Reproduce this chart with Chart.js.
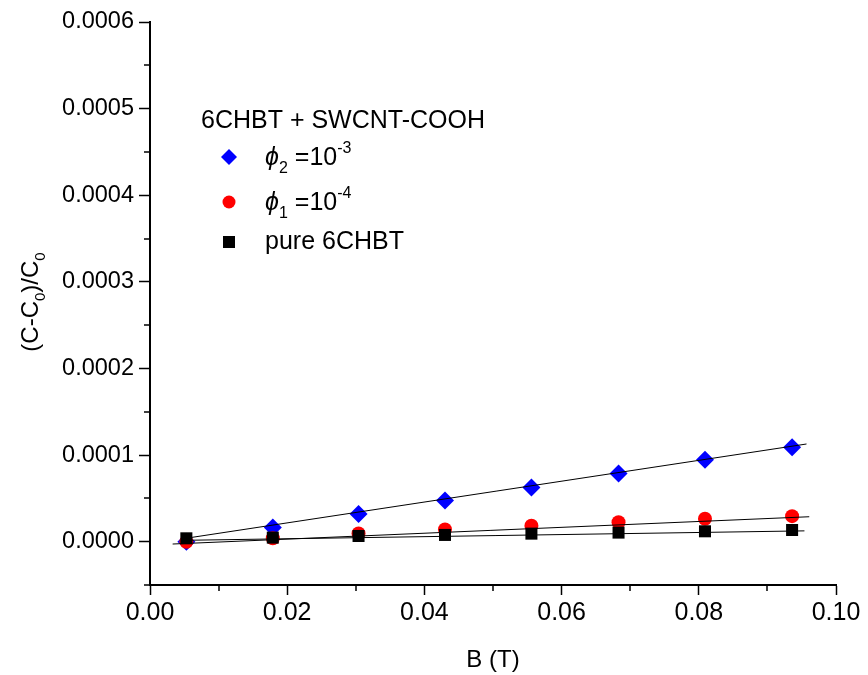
<!DOCTYPE html>
<html>
<head>
<meta charset="utf-8">
<title>(C-C0)/C0 vs B</title>
<script src="https://cdn.jsdelivr.net/npm/chart.js@4.4.1/dist/chart.umd.min.js"></script>
<style>
  html, body { margin: 0; padding: 0; background: #fff; }
  #wrap { width: 868px; height: 675px; }
</style>
</head>
<body>
<div id="wrap"><canvas id="capChart" width="868" height="675"></canvas></div>
<script>
'use strict';

// ── Data ─────────────────────────────────────────────────
const bField = [0.0053, 0.0179, 0.0304, 0.0430, 0.0556, 0.0683, 0.0809, 0.0936];
const phi2   = [0.0, 1.63e-5, 3.19e-5, 4.75e-5, 6.26e-5, 7.86e-5, 9.46e-5, 1.09e-4];
const phi1   = [0.0, 0.40e-5, 0.95e-5, 1.40e-5, 1.85e-5, 2.25e-5, 2.65e-5, 2.95e-5];
const pure   = [0.39e-5, 0.47e-5, 0.66e-5, 0.78e-5, 0.93e-5, 1.05e-5, 1.20e-5, 1.35e-5];

// linear fit end points
const fitPhi2X = [0.0052, 0.0957];
const fitPhi2Y = [0.39e-5, 1.128e-4];
const fitPhi1X = [0.0033, 0.0961];
const fitPhi1Y = [-0.27e-5, 2.88e-5];
const fitPureX = [0.0052, 0.0954];
const fitPureY = [0.16e-5, 1.25e-5];

// ticks
const xTicks = [0.00, 0.02, 0.04, 0.06, 0.08, 0.10];
const xMinor = [0.01, 0.03, 0.05, 0.07, 0.09];
const yTicks = [0.0000, 0.0001, 0.0002, 0.0003, 0.0004, 0.0005, 0.0006];
const yMinor = [-0.00005, 0.00005, 0.00015, 0.00025, 0.00035, 0.00045, 0.00055];

const legendTitle = '6CHBT + SWCNT-COOH';

const FONT = '"Liberation Sans", Arial, sans-serif';

const pts = (xs, ys) => xs.map((x, i) => ({ x: x, y: ys[i] }));

// ── text with sub/superscripts ───────────────────────────
function partFont(p, size) {
    const fs = (p.sub || p.sup) ? Math.round(size * 0.64) : size;
    return (p.italic ? 'italic ' : '') + fs + 'px ' + FONT;
}

function drawRich(ctx, x, y, parts, size) {
    let cx = x;
    parts.forEach(p => {
        ctx.font = partFont(p, size);
        let dy = 0;
        if (p.sub) dy = size * 0.3;
        if (p.sup) dy = -size * 0.48;
        ctx.fillText(p.t, cx, y + dy);
        cx += ctx.measureText(p.t).width + (p.gap || 0);
    });
    return cx;
}

// ── plugin: minor ticks, y title, legend ─────────────────
const decorPlugin = {
    id: 'decor',
    afterDraw(chart) {
        const ctx = chart.ctx;
        const xs = chart.scales.x;
        const ys = chart.scales.y;
        const area = chart.chartArea;
        ctx.save();
        ctx.strokeStyle = '#000';
        ctx.lineWidth = 1.5;
        ctx.beginPath();
        xMinor.forEach(v => {
            const px = Math.round(xs.getPixelForValue(v));
            ctx.moveTo(px, area.bottom);
            ctx.lineTo(px, area.bottom + 6);
        });
        yMinor.forEach(v => {
            const py = Math.round(ys.getPixelForValue(v));
            ctx.moveTo(area.left, py);
            ctx.lineTo(area.left - 6, py);
        });
        ctx.stroke();

        // y axis title
        ctx.fillStyle = '#000';
        ctx.textBaseline = 'alphabetic';
        ctx.textAlign = 'left';
        const ySize = 24;
        const yParts = [{ t: '(C-C' }, { t: '0', sub: true }, { t: ')/C' }, { t: '0', sub: true }];
        ctx.save();
        ctx.translate(38, 302);
        ctx.rotate(-Math.PI / 2);
        let w = 0;
        yParts.forEach(p => {
            ctx.font = partFont(p, ySize);
            w += ctx.measureText(p.t).width;
        });
        drawRich(ctx, -w / 2, 0, yParts, ySize);
        ctx.restore();

        // legend
        const lSize = 25;
        ctx.font = lSize + 'px ' + FONT;
        ctx.fillText(legendTitle, 201, 128);
        const items = [
            { style: 'rectRot', r: 8, color: '#0000ff', y: 157, base: 165,
              parts: [{ t: '\u03D5', italic: true }, { t: '2', sub: true, gap: 7 }, { t: '=10' }, { t: '-3', sup: true }] },
            { style: 'circle', r: 6.5, color: '#ff0000', y: 202, base: 210,
              parts: [{ t: '\u03D5', italic: true }, { t: '1', sub: true, gap: 7 }, { t: '=10' }, { t: '-4', sup: true }] },
            { style: 'rect', r: 8.5, color: '#000000', y: 242, base: 249,
              parts: [{ t: 'pure 6CHBT' }] }
        ];
        items.forEach(it => {
            ctx.fillStyle = it.color;
            ctx.strokeStyle = it.color;
            ctx.lineWidth = 0;
            Chart.helpers.drawPoint(ctx, { pointStyle: it.style, radius: it.r, borderWidth: 0 }, 229, it.y);
            ctx.fillStyle = '#000';
            drawRich(ctx, 265, it.base, it.parts, lSize);
        });
        ctx.restore();
    }
};

document.addEventListener('DOMContentLoaded', () => {

    const canvas = document.getElementById('capChart');

    const fitLine = (data) => ({
        data: data,
        showLine: true,
        borderColor: '#000',
        borderWidth: 1,
        pointRadius: 0,
        pointHoverRadius: 0,
        order: 0
    });

    new Chart(canvas, {
        type: 'scatter',
        data: {
            datasets: [
                fitLine(pts(fitPhi2X, fitPhi2Y)),
                fitLine(pts(fitPhi1X, fitPhi1Y)),
                fitLine(pts(fitPureX, fitPureY)),
                {
                    label: 'pure 6CHBT',
                    data: pts(bField, pure),
                    pointStyle: 'rect',
                    pointRadius: 8.5,
                    backgroundColor: '#000',
                    borderColor: '#000',
                    borderWidth: 0,
                    order: 1
                },
                {
                    label: 'phi1',
                    data: pts(bField, phi1),
                    pointStyle: 'circle',
                    pointRadius: 7,
                    backgroundColor: '#ff0000',
                    borderColor: '#ff0000',
                    borderWidth: 0,
                    order: 2
                },
                {
                    label: 'phi2',
                    data: pts(bField, phi2),
                    pointStyle: 'rectRot',
                    pointRadius: 9,
                    backgroundColor: '#0000ff',
                    borderColor: '#0000ff',
                    borderWidth: 0,
                    order: 3
                }
            ]
        },
        options: {
            responsive: false,
            animation: false,
            devicePixelRatio: 1,
            layout: { padding: { top: 22, right: 32, left: 0, bottom: 0 } },
            plugins: {
                legend: { display: false },
                tooltip: { enabled: false }
            },
            scales: {
                x: {
                    type: 'linear',
                    min: 0,
                    max: 0.1,
                    afterFit: (s) => { s.height = 90; },
                    afterBuildTicks: (s) => { s.ticks = xTicks.map(v => ({ value: v })); },
                    border: { display: true, color: '#000', width: 2 },
                    grid: { display: true, drawOnChartArea: false, drawTicks: true, tickLength: 10, tickColor: '#000', tickWidth: 1.5 },
                    ticks: {
                        color: '#000',
                        padding: 3,
                        maxRotation: 0,
                        font: { family: FONT, size: 25 },
                        callback: (v) => Number(v).toFixed(2)
                    },
                    title: {
                        display: true,
                        text: 'B (T)',
                        color: '#000',
                        font: { family: FONT, size: 24 },
                        padding: { top: 9, bottom: 0 }
                    }
                },
                y: {
                    type: 'linear',
                    min: -0.00005,
                    max: 0.0006,
                    afterFit: (s) => { s.width = 150; },
                    afterBuildTicks: (s) => { s.ticks = yTicks.map(v => ({ value: v })); },
                    border: { display: true, color: '#000', width: 2 },
                    grid: { display: true, drawOnChartArea: false, drawTicks: true, tickLength: 11, tickColor: '#000', tickWidth: 1.5 },
                    ticks: {
                        color: '#000',
                        padding: 5,
                        font: { family: FONT, size: 23.5 },
                        callback: (v) => Number(v).toFixed(4)
                    }
                }
            }
        },
        plugins: [decorPlugin]
    });

});
</script>
</body>
</html>
